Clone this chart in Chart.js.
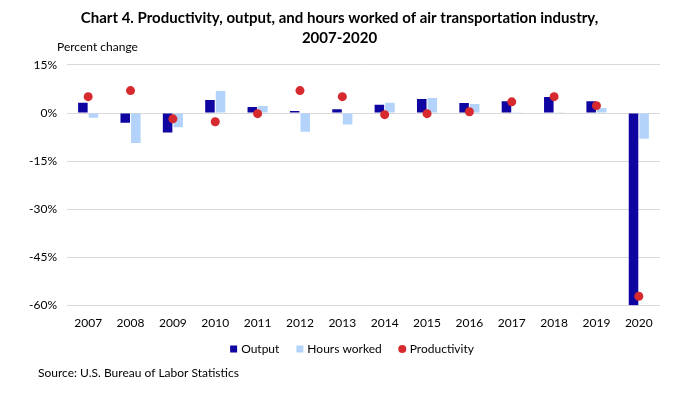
<!DOCTYPE html>
<html>
<head>
<meta charset="utf-8">
<script src="https://cdn.jsdelivr.net/npm/chart.js@4"></script>
<style>
  body { margin: 0; background: #fff; }
  #wrap { width: 692px; height: 395px; }
</style>
</head>
<body>
<div id="wrap"><canvas id="chart4"></canvas></div>
<script>
// values (percent change)
const years = ['2007', '2008', '2009', '2010', '2011', '2012', '2013', '2014', '2015', '2016', '2017', '2018', '2019', '2020'];
const output = [3.2, -3.0, -6.1, 4.1, 1.9, 0.6, 1.2, 2.6, 4.4, 3.1, 3.7, 5.0, 3.7, -59.9];
const hoursWorked = [-1.5, -9.3, -4.4, 6.9, 2.2, -5.8, -3.6, 3.2, 4.7, 2.8, 0.1, 0.1, 1.6, -8.0];
const productivity = [5.1, 7.0, -1.8, -2.7, -0.2, 7.0, 5.1, -0.5, -0.2, 0.4, 3.5, 5.1, 2.3, -57.1];

const FONT = 'Lato, "Open Sans", sans-serif';
const OUTPUT_COLOR = '#0F05A0';
const HOURS_COLOR = '#B3D3FB';
const PROD_COLOR = '#D62A2F';

// "Percent change", the legend row and the source line
const extraText = {
    id: 'extraText',
    afterDraw(chart) {
        const ctx = chart.ctx;
        ctx.save();
        ctx.fillStyle = '#000';
        ctx.font = '12px ' + FONT;
        ctx.textBaseline = 'middle';
        ctx.textAlign = 'left';
        ctx.fillText('Percent change', 57, 47);
        ctx.fillText('Source: U.S. Bureau of Labor Statistics', 38, 373);

        // legend, centred a bit right of the canvas middle like the original
        const items = chart.data.datasets.map(ds => ({
            text: ds.label,
            color: ds.backgroundColor,
            round: ds.type === 'line'
        }));
        const box = 7, gapIn = 4, gapOut = 17, y = 349;
        const widths = items.map(it => box + gapIn + ctx.measureText(it.text).width);
        const total = widths.reduce((a, b) => a + b, 0) + gapOut * (items.length - 1);
        let x = 352 - total / 2;
        items.forEach((it, i) => {
            ctx.fillStyle = it.color;
            if (it.round) {
                ctx.beginPath();
                ctx.arc(x + box / 2, y, box / 2 + 0.5, 0, Math.PI * 2);
                ctx.fill();
            } else {
                ctx.fillRect(x, y - box / 2, box, box);
            }
            ctx.fillStyle = '#000';
            ctx.fillText(it.text, x + box + gapIn, y);
            x += widths[i] + gapOut;
        });
        ctx.restore();
    }
};

const ctx = document.getElementById('chart4').getContext('2d');
const chart4 = new Chart(ctx, {
    type: 'bar',
    data: {
        labels: years,
        datasets: [
            {
                label: 'Output',
                data: output,
                backgroundColor: OUTPUT_COLOR,
                categoryPercentage: 0.5,
                barPercentage: 0.9
            },
            {
                label: 'Hours worked',
                data: hoursWorked,
                backgroundColor: HOURS_COLOR,
                categoryPercentage: 0.5,
                barPercentage: 0.9
            },
            {
                type: 'line',
                label: 'Productivity',
                data: productivity,
                showLine: false,
                pointRadius: 4.5,
                pointBackgroundColor: PROD_COLOR,
                pointBorderWidth: 0,
                backgroundColor: PROD_COLOR,
                borderColor: PROD_COLOR,
                order: -1
            }
        ]
    },
    options: {
        responsive: true,
        maintainAspectRatio: false,
        animation: false,
        layout: { padding: { left: 19, right: 32, top: 4, bottom: 63 } },
        scales: {
            x: {
                grid: { display: false },
                border: { display: false },
                ticks: { color: '#000', font: { family: FONT, size: 12 }, maxRotation: 0, padding: 2 }
            },
            y: {
                min: -60,
                max: 15,
                ticks: {
                    stepSize: 15,
                    color: '#000',
                    font: { family: FONT, size: 12 },
                    padding: 10,
                    callback: v => v + '%'
                },
                grid: { color: '#D9D9D9', lineWidth: 1, drawTicks: false },
                border: { display: false }
            }
        },
        plugins: {
            title: {
                display: true,
                text: ['Chart 4. Productivity, output, and hours worked of air transportation industry,', '2007-2020'],
                color: '#000',
                font: { family: FONT, size: 15, weight: 'bold', lineHeight: 1.33 },
                padding: { top: 4, bottom: 17 }
            },
            legend: { display: false },
            tooltip: { enabled: false }
        }
    },
    plugins: [extraText]
});
</script>
</body>
</html>
